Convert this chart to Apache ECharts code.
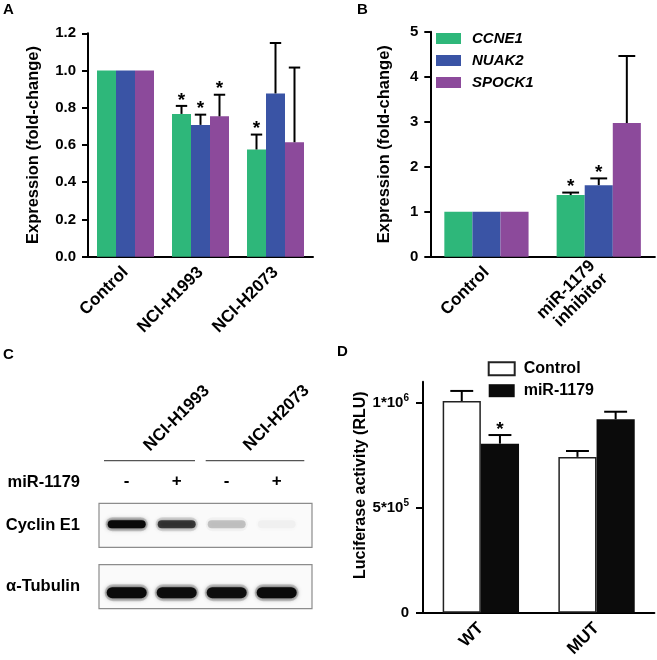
<!DOCTYPE html>
<html><head><meta charset="utf-8">
<script src="https://cdn.jsdelivr.net/npm/echarts@6/dist/echarts.min.js"></script>
<style>html,body{margin:0;padding:0;background:#fff}#c{width:657px;height:660px}</style>
</head><body><div id="c"></div>
<script>
// ---------- data ----------
const genes = ['CCNE1', 'NUAK2', 'SPOCK1'];
const geneColors = ['#2eb77a', '#3a54a5', '#8c4a9b'];

// Panel A
const catsA = ['Control', 'NCI-H1993', 'NCI-H2073'];
const ccne1A = [1.0, 0.767, 0.576];
const nuak2A = [1.0, 0.708, 0.877];
const spock1A = [1.0, 0.754, 0.615];
const ccne1AErr = [0, 0.043, 0.080];
const nuak2AErr = [0, 0.055, 0.271];
const spock1AErr = [0, 0.116, 0.401];
const ccne1ASig = [0, 1, 1];
const nuak2ASig = [0, 1, 0];
const spock1ASig = [0, 1, 0];

// Panel B
const catsB = ['Control', 'miR-1179\ninhibitor'];
const ccne1B = [1.0, 1.37];
const nuak2B = [1.0, 1.59];
const spock1B = [1.0, 2.97];
const ccne1BErr = [0, 0.055];
const nuak2BErr = [0, 0.15];
const spock1BErr = [0, 1.49];
const ccne1BSig = [0, 1];
const nuak2BSig = [0, 1];
const spock1BSig = [0, 0];

// Panel C (western blot, relative band intensity)
const blotCellLine = ['NCI-H1993', 'NCI-H1993', 'NCI-H2073', 'NCI-H2073'];
const blotTreatment = ['-', '+', '-', '+'];
const blotRows = ['α-Tubulin', 'Cyclin E1'];
const cyclinE1Band = [1.0, 0.72, 0.2, 0.03];
const tubulinBand = [1.0, 0.97, 0.96, 1.0];
const cellLines = ['NCI-H1993', 'NCI-H2073'];

// Panel D
const groupsD = ['Control', 'miR-1179'];
const catsD = ['WT', 'MUT'];
const controlD = [1.008e6, 0.742e6];
const controlDErr = [0.048e6, 0.028e6];
const mirD = [0.805e6, 0.921e6];
const mirDErr = [0.041e6, 0.036e6];
const controlDSig = [0, 0];
const mirDSig = [1, 0];
const ticksD = [0, 5e5, 1e6];

// ---------- helpers ----------
const FONT = "'Liberation Sans', Arial, Helvetica, sans-serif";
const axisLineStyle = { color: '#000', width: 2 };

function errSeries(name, grid, vals, errs, sigs, pos, n, gap) {
  return {
    type: 'custom', name: name, xAxisIndex: grid, yAxisIndex: grid, z: 5, clip: false,
    silent: true,
    data: vals.map((v, i) => [i, v, errs[i], sigs[i]]),
    encode: { x: 0, y: 1 },
    renderItem: function (params, api) {
      const ci = api.value(0), v = api.value(1), e = api.value(2), s = api.value(3);
      const band = api.size([1, 0])[0];
      const bw = band * (1 - gap) / n;
      const c = api.coord([ci, v]);
      const x = c[0] + (pos - (n - 1) / 2) * bw;
      const top = api.coord([ci, v + e])[1];
      const cap = bw * 0.3;
      const ch = [];
      if (e > 0) {
        ch.push({ type: 'line', shape: { x1: x, y1: c[1], x2: x, y2: top }, style: { stroke: '#000', lineWidth: 2 } });
        ch.push({ type: 'line', shape: { x1: x - cap, y1: top, x2: x + cap, y2: top }, style: { stroke: '#000', lineWidth: 2 } });
      }
      if (s) {
        ch.push({ type: 'text', style: { text: '*', x: x, y: top + 4, align: 'center', verticalAlign: 'bottom', font: 'bold 19px ' + FONT, fill: '#000' } });
      }
      return { type: 'group', children: ch };
    }
  };
}

function barSeries(name, grid, vals, color, gap, extra) {
  return Object.assign({
    type: 'bar', name: name, xAxisIndex: grid, yAxisIndex: grid,
    data: vals, barGap: 0, barCategoryGap: gap,
    itemStyle: { color: color }, emphasis: { disabled: true }
  }, extra || {});
}

const catLabel = { rotate: 45, margin: 13, color: '#000', fontWeight: 'bold', fontSize: 17, fontFamily: FONT, interval: 0 };

function catAxis(grid, data, extra) {
  return Object.assign({
    type: 'category', gridIndex: grid, data: data,
    axisLine: { lineStyle: axisLineStyle },
    axisTick: { alignWithLabel: true, length: 6, lineStyle: { width: 2, color: '#000' } },
    axisLabel: catLabel,
    splitLine: { show: false }
  }, extra || {});
}

const titleStyle = { color: '#000', fontWeight: 'bold', fontSize: 16.5, fontFamily: FONT };

function valAxis(grid, min, max, interval, name, nameGap, fmt, extra) {
  return Object.assign({
    type: 'value', gridIndex: grid, min: min, max: max, interval: interval,
    name: name, nameLocation: 'middle', nameGap: nameGap, nameRotate: 90,
    nameTextStyle: titleStyle,
    axisLine: { show: true, lineStyle: axisLineStyle },
    axisTick: { show: true, length: 6, lineStyle: { width: 2, color: '#000' } },
    axisLabel: { color: '#000', fontWeight: 'bold', fontSize: 15, fontFamily: FONT, margin: 12, formatter: fmt },
    splitLine: { show: false }
  }, extra || {});
}

// ---------- chart ----------
const chart = echarts.init(document.getElementById('c'), null, { renderer: 'canvas' });

const gapA = 0.24, gapB = 0.25, gapD = 0.34;
const blotCats = blotCellLine.map((c, i) => c + ' ' + blotTreatment[i]);

const blotData = [];
cyclinE1Band.forEach((v, i) => blotData.push([i, 1, v]));
tubulinBand.forEach((v, i) => blotData.push([i, 0, v]));

const fmtD = v => v === 0 ? '0' : (v === 5e5 ? '5*10{s|5}' : '1*10{s|6}');

const option = {
  animation: false,
  backgroundColor: '#fff',
  textStyle: { fontFamily: FONT },
  grid: [
    { left: 88, top: 33.3, width: 225, height: 223.4 },
    { left: 430.3, top: 31.7, width: 224.6, height: 225 },
    { left: 423, top: 381.7, width: 231.4, height: 231 },
    { left: 101.7, top: 494.6, width: 200, height: 122.8 }
  ],
  xAxis: [
    catAxis(0, catsA),
    catAxis(1, catsB, { axisLabel: Object.assign({}, catLabel, { lineHeight: 18, align: 'right' }) }),
    catAxis(2, catsD),
    {
      type: 'category', gridIndex: 3, data: blotCats, position: 'top',
      axisLine: { show: false }, axisTick: { show: false }, splitLine: { show: false },
      axisLabel: { margin: 5, color: '#000', fontWeight: 'bold', fontSize: 17, fontFamily: FONT,
        formatter: (v, i) => blotTreatment[i] }
    }
  ],
  yAxis: [
    valAxis(0, 0, 1.2, 0.2, 'Expression (fold-change)', 46, v => v.toFixed(1)),
    valAxis(1, 0, 5, 1, 'Expression (fold-change)', 37, v => String(v)),
    valAxis(2, 0, 1.1e6, 5e5, 'Luciferase activity (RLU)', 50, fmtD,
      {
        nameTextStyle: Object.assign({}, titleStyle, { fontSize: 16, padding: [0, 0, 0, 24] }),
        axisTick: { show: true, length: 7, lineStyle: { width: 2, color: '#000' }, customValues: ticksD },
        axisLabel: { color: '#000', fontWeight: 'bold', fontSize: 15, fontFamily: FONT, margin: 14, customValues: ticksD,
          formatter: fmtD,
          rich: { s: { fontSize: 10, fontWeight: 'bold', verticalAlign: 'top', padding: [0, 0, 8, 0], color: '#000', fontFamily: FONT } } }
      }),
    {
      type: 'category', gridIndex: 3, data: blotRows,
      axisLine: { show: false }, axisTick: { show: false }, splitLine: { show: false },
      axisLabel: { margin: 21.7, color: '#000', fontWeight: 'bold', fontSize: 16.5, fontFamily: FONT }
    }
  ],
  legend: [
    {
      data: genes, orient: 'vertical', left: 436, top: 31, padding: 0,
      itemWidth: 25, itemHeight: 11, itemGap: 7, icon: 'rect', selectedMode: false,
      textStyle: { color: '#000', fontWeight: 'bold', fontStyle: 'italic', fontSize: 15, fontFamily: FONT, padding: [0, 0, 0, 6] }
    },
    {
      data: groupsD, orient: 'vertical', left: 487.7, top: 360.7, padding: 0,
      itemWidth: 26, itemHeight: 13, itemGap: 6, icon: 'rect', selectedMode: false,
      textStyle: { color: '#000', fontWeight: 'bold', fontSize: 16, fontFamily: FONT, padding: [0, 0, 0, 4] }
    }
  ],
  series: [
    // A
    barSeries('CCNE1', 0, ccne1A, geneColors[0], (gapA * 100) + '%'),
    barSeries('NUAK2', 0, nuak2A, geneColors[1], (gapA * 100) + '%'),
    barSeries('SPOCK1', 0, spock1A, geneColors[2], (gapA * 100) + '%'),
    errSeries('errA0', 0, ccne1A, ccne1AErr, ccne1ASig, 0, 3, gapA),
    errSeries('errA1', 0, nuak2A, nuak2AErr, nuak2ASig, 1, 3, gapA),
    errSeries('errA2', 0, spock1A, spock1AErr, spock1ASig, 2, 3, gapA),
    // B
    barSeries('CCNE1', 1, ccne1B, geneColors[0], (gapB * 100) + '%'),
    barSeries('NUAK2', 1, nuak2B, geneColors[1], (gapB * 100) + '%'),
    barSeries('SPOCK1', 1, spock1B, geneColors[2], (gapB * 100) + '%'),
    errSeries('errB0', 1, ccne1B, ccne1BErr, ccne1BSig, 0, 3, gapB),
    errSeries('errB1', 1, nuak2B, nuak2BErr, nuak2BSig, 1, 3, gapB),
    errSeries('errB2', 1, spock1B, spock1BErr, spock1BSig, 2, 3, gapB),
    // D
    barSeries('Control', 2, controlD, '#ffffff', (gapD * 100) + '%', { itemStyle: { color: '#ffffff', borderColor: '#222', borderWidth: 1.5 } }),
    barSeries('miR-1179', 2, mirD, '#0b0b0b', (gapD * 100) + '%'),
    errSeries('errD0', 2, controlD, controlDErr, controlDSig, 0, 2, gapD),
    errSeries('errD1', 2, mirD, mirDErr, mirDSig, 1, 2, gapD),
    // C: blot frames
    {
      type: 'custom', name: 'blotFrame', xAxisIndex: 3, yAxisIndex: 3, silent: true, clip: false, z: 1,
      data: blotRows.map((r, i) => [0, i]), encode: { x: 0, y: 1 },
      renderItem: function (params, api) {
        const cs = params.coordSys;
        const cy = api.coord([0, api.value(1)])[1];
        return { type: 'rect', shape: { x: cs.x - 2.7, y: cy - 22, width: cs.width + 13, height: 44 },
          style: { fill: '#fafafa', stroke: '#8c8c8c', lineWidth: 1.2 } };
      }
    },
    // C: blot bands
    {
      type: 'custom', name: 'blotBands', xAxisIndex: 3, yAxisIndex: 3, silent: true, clip: false, z: 2,
      data: blotData, encode: { x: 0, y: 1 },
      renderItem: function (params, api) {
        const lane = api.value(0), row = api.value(1), I = api.value(2);
        const c = api.coord([lane, row]);
        const laneW = api.size([1, 0])[0];
        const isCyc = row === 1;
        const bw = laneW * (isCyc ? 0.76 : 0.8);
        const bh = isCyc ? 8 : 11;
        const cy = c[1] + (isCyc ? -1 : 6);
        return {
          type: 'group', children: [
            { type: 'rect', shape: { x: c[0] - bw / 2 - 2, y: cy - bh / 2 - 3, width: bw + 4, height: bh + 6, r: (bh + 6) / 2 },
              style: { fill: 'rgba(60,60,60,' + (I * 0.2) + ')', shadowBlur: 6, shadowColor: 'rgba(0,0,0,' + (I * 0.25) + ')' } },
            { type: 'rect', shape: { x: c[0] - bw / 2, y: cy - bh / 2, width: bw, height: bh, r: bh / 2 },
              style: { fill: 'rgba(10,10,10,' + I + ')', shadowBlur: 4, shadowColor: 'rgba(0,0,0,' + (I * 0.7) + ')' } }
          ]
        };
      }
    }
  ],
  graphic: [
    { type: 'text', left: 3, top: 2, style: { text: 'A', font: 'bold 15px ' + FONT, fill: '#000' } },
    { type: 'text', left: 357, top: 2, style: { text: 'B', font: 'bold 15px ' + FONT, fill: '#000' } },
    { type: 'text', left: 3, top: 347, style: { text: 'C', font: 'bold 15px ' + FONT, fill: '#000' } },
    { type: 'text', left: 337, top: 344, style: { text: 'D', font: 'bold 15px ' + FONT, fill: '#000' } },
    { type: 'line', shape: { x1: 104, y1: 460.7, x2: 195, y2: 460.7 }, style: { stroke: '#555', lineWidth: 1.2 } },
    { type: 'line', shape: { x1: 205.7, y1: 460.7, x2: 304.3, y2: 460.7 }, style: { stroke: '#555', lineWidth: 1.2 } },
    { type: 'text', x: 176.7, y: 418.3, rotation: Math.PI / 4,
      style: { text: cellLines[0], x: 0, y: 0, align: 'center', verticalAlign: 'middle', font: 'bold 17px ' + FONT, fill: '#000' } },
    { type: 'text', x: 276.5, y: 418, rotation: Math.PI / 4,
      style: { text: cellLines[1], x: 0, y: 0, align: 'center', verticalAlign: 'middle', font: 'bold 17px ' + FONT, fill: '#000' } },
    { type: 'text', x: 80, y: 482.7,
      style: { text: 'miR-1179', x: 0, y: 0, align: 'right', verticalAlign: 'middle', font: 'bold 16.5px ' + FONT, fill: '#000' } }
  ]
};
chart.setOption(option);
</script>
</body></html>
